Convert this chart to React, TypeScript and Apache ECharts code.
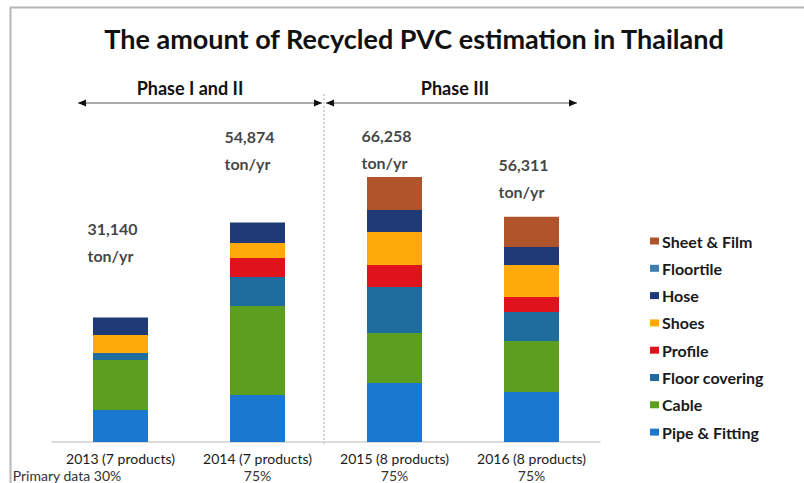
import React, { useEffect, useRef } from "react";
import * as echarts from "echarts";

const categories = ["2013 (7 products)", "2014 (7 products)", "2015 (8 products)", "2016 (8 products)"];
const primaryData = ["Primary data 30%", "75%", "75%", "75%"];
const totals = [31140, 54874, 66258, 56311];
const totalLabels = ["31,140", "54,874", "66,258", "56,311"];
const unitLabel = "ton/yr";
const phaseLabels = ["Phase I and II", "Phase III"];
const titleText = "The amount of Recycled PVC estimation in Thailand";

const seriesNames = ["Pipe & Fitting", "Cable", "Floor covering", "Profile", "Shoes", "Hose", "Floortile", "Sheet & Film"];
const pipeFitting = [8000, 11750, 14750, 12500];
const cable = [12500, 22250, 12500, 12750];
const floorCovering = [1750, 7250, 11500, 7250];
const profile = [0, 4750, 5500, 3750];
const shoes = [4500, 3750, 8250, 8000];
const hose = [4390, 5124, 5500, 4500];
const floortile = [0, 0, 0, 0];
const sheetFilm = [0, 0, 8258, 7561];
const seriesValues = [pipeFitting, cable, floorCovering, profile, shoes, hose, floortile, sheetFilm];

const colors = ["#1b78d0", "#5c9e1f", "#1f6d9e", "#e0121b", "#ffa90a", "#1f3a76", "#3b7fb2", "#b0552b"];
// layout: vertical raise of each total label above its bar (px)
const labelRaise = [-43, -41, 4, -7];

export default function App() {
  const ref = useRef<HTMLDivElement>(null);
  useEffect(() => {
    document.body.style.margin = "0";
    if (!ref.current) return;
    const chart = echarts.init(ref.current, null, { renderer: "svg" });
    const font = "Lato";
    const bars = seriesNames.map((name, i) => ({
      name,
      type: "bar",
      stack: "total",
      barWidth: 55,
      itemStyle: { color: colors[i] },
      data: seriesValues[i],
    }));
    const arrowY = 103;
    const arrow = (x1: number, x2: number) => [
      { type: "line", shape: { x1, y1: arrowY, x2, y2: arrowY }, style: { stroke: "#555", lineWidth: 1 } },
      { type: "polygon", shape: { points: [[x1, arrowY], [x1 + 8, arrowY - 3.5], [x1 + 8, arrowY + 3.5]] }, style: { fill: "#111" } },
      { type: "polygon", shape: { points: [[x2, arrowY], [x2 - 8, arrowY - 3.5], [x2 - 8, arrowY + 3.5]] }, style: { fill: "#111" } },
    ];
    chart.setOption({
      animation: false,
      backgroundColor: "#fff",
      textStyle: { fontFamily: font },
      grid: { left: 52, right: 204, top: 102, bottom: 41 },
      xAxis: {
        type: "category",
        data: categories,
        axisLine: { lineStyle: { color: "#cfcfcf", width: 1.5 } },
        axisTick: { show: false },
        axisLabel: {
          margin: 8,
          interval: 0,
          formatter: (v: string, idx: number) =>
            `{c|${v}}\n{${idx === 0 ? "p0" : "p"}|${primaryData[idx]}}`,
          rich: {
            c: { fontSize: 14, color: "#1a1a1a", lineHeight: 17, fontFamily: font },
            p: { fontSize: 14, color: "#333", lineHeight: 17, fontFamily: font },
            p0: { fontSize: 14, color: "#333", lineHeight: 17, fontFamily: font, padding: [0, 107, 0, 0] },
          },
        },
      },
      yAxis: { type: "value", min: 0, max: 85000, show: false, splitLine: { show: false } },
      legend: {
        orient: "vertical",
        left: 645,
        top: 228,
        icon: "rect",
        itemWidth: 9,
        itemHeight: 7,
        itemGap: 11.3,
        data: [...seriesNames].reverse(),
        textStyle: { fontSize: 16, fontWeight: "bold", color: "#1a1a1a", lineHeight: 16, fontFamily: font, padding: [0, 0, 0, -2] },
      },
      series: [
        ...bars,
        {
          name: "Total",
          type: "scatter",
          symbolSize: 0,
          data: totals.map((t, i) => ({
            value: t,
            label: { offset: [-33, labelRaise[i]] },
          })),
          label: {
            show: true,
            position: "top",
            align: "left",
            formatter: (p: any) => `${totalLabels[p.dataIndex]}\n${unitLabel}`,
            fontSize: 16,
            fontWeight: "bold",
            lineHeight: 27,
            color: "#111",
            fontFamily: font,
          },
        },
      ],
      graphic: [
        { type: "rect", shape: { x: 10.5, y: 7.5, width: 800, height: 490 }, style: { fill: "none", stroke: "#b5b5b5", lineWidth: 2 } },
        {
          type: "text",
          x: 414,
          y: 38,
          style: { text: titleText, fontSize: 27, fontWeight: "bold", fill: "#111", align: "center", verticalAlign: "middle", fontFamily: font },
        },
        { type: "line", shape: { x1: 324, y1: 94, x2: 324, y2: 446 }, style: { stroke: "#aaa", lineWidth: 1, lineDash: [2, 2] } },
        ...arrow(78, 322),
        ...arrow(326, 577),
        {
          type: "text",
          x: 190,
          y: 88,
          style: { text: phaseLabels[0], fontSize: 18, fontWeight: "bold", fill: "#111", align: "center", verticalAlign: "middle", fontFamily: font },
        },
        {
          type: "text",
          x: 455,
          y: 88,
          style: { text: phaseLabels[1], fontSize: 18, fontWeight: "bold", fill: "#111", align: "center", verticalAlign: "middle", fontFamily: font },
        },
      ],
    });
    return () => chart.dispose();
  }, []);
  return <div ref={ref} style={{ width: 804, height: 483 }} />;
}
